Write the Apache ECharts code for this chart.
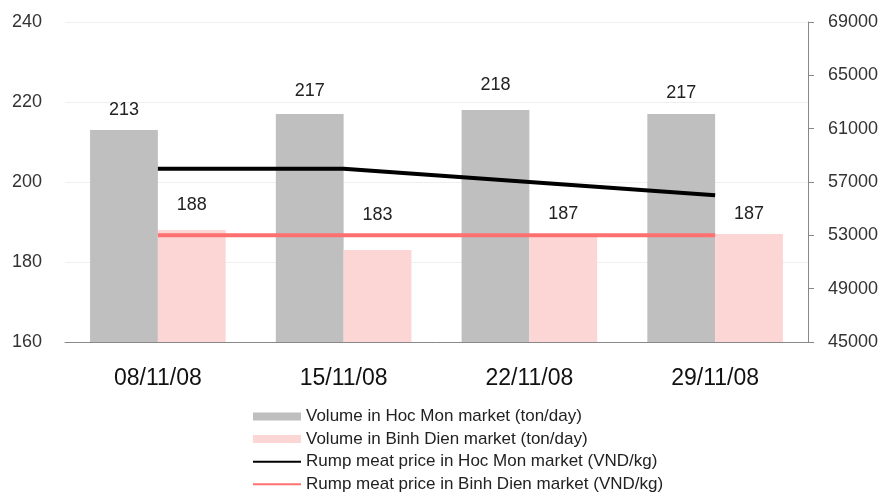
<!DOCTYPE html>
<html><head><meta charset="utf-8">
<script src="https://cdn.jsdelivr.net/npm/echarts@6/dist/echarts.min.js"></script>
<style>html,body{margin:0;padding:0;background:#fff}#c{width:885px;height:493px}</style>
</head><body><div id="c"></div>
<script>
var categories = ['08/11/08', '15/11/08', '22/11/08', '29/11/08'];
var volHocMon = [213, 217, 218, 217];
var volBinhDien = [188, 183, 187, 187];
var priceHocMon = [58000, 58000, 57000, 56000];
var priceBinhDien = [53000, 53000, 53000, 53000];
var leftTicks = [160, 180, 200, 220, 240];
var rightTicks = [45000, 49000, 53000, 57000, 61000, 65000, 69000];
var names = ['Volume in Hoc Mon market (ton/day)', 'Volume in Binh Dien market (ton/day)',
  'Rump meat price in Hoc Mon market (VND/kg)', 'Rump meat price in Binh Dien market (VND/kg)'];

// label offsets (styling only)
var grayOff = [-6, -9, -11, -7];
var pinkOff = [-11, -21, -6, -6];

var font = 'Liberation Sans, Arial, sans-serif';
function withOffsets(vals, offs) {
  return vals.map(function (v, i) { return { value: v, label: { offset: [0, offs[i]] } }; });
}
var chart = echarts.init(document.getElementById('c'));
chart.setOption({
  animation: false,
  textStyle: { fontFamily: font },
  grid: { left: 65, right: 77, top: 22, bottom: 151 },
  legend: {
    orient: 'vertical', left: 252, top: 408, padding: 0, itemWidth: 48, itemHeight: 8, itemGap: 5.6,
    textStyle: { fontFamily: font, fontSize: 17, lineHeight: 17, color: '#222' },
    data: [
      { name: names[0], icon: 'rect' },
      { name: names[1], icon: 'rect' },
      { name: names[2], lineStyle: { width: 2 }, itemStyle: { opacity: 0 } },
      { name: names[3], lineStyle: { width: 2 }, itemStyle: { opacity: 0 } }
    ]
  },
  xAxis: {
    type: 'category', data: categories,
    axisLine: { lineStyle: { color: '#888', width: 1 } },
    axisTick: { alignWithLabel: true, length: 6, lineStyle: { color: '#888' } },
    axisLabel: { fontSize: 23, color: '#111', margin: 25, fontFamily: font }
  },
  yAxis: [
    {
      type: 'value', min: leftTicks[0], max: leftTicks[leftTicks.length - 1], interval: 20,
      axisLine: { show: false }, axisTick: { show: false },
      splitLine: { lineStyle: { color: '#efefef', width: 1 } },
      axisLabel: { fontSize: 18, color: '#333', margin: 23, fontFamily: font }
    },
    {
      type: 'value', min: rightTicks[0], max: rightTicks[rightTicks.length - 1], interval: 4000,
      axisLine: { show: true, lineStyle: { color: '#888' } },
      axisTick: { show: true, length: 6, lineStyle: { color: '#888' } },
      splitLine: { show: false },
      axisLabel: { fontSize: 18, color: '#333', margin: 20, fontFamily: font, formatter: function (v) { return String(v); } }
    }
  ],
  series: [
    {
      name: names[0], type: 'bar', data: withOffsets(volHocMon, grayOff), barGap: '0%', barCategoryGap: '27%',
      itemStyle: { color: '#bfbfbf' },
      label: { show: true, position: 'top', distance: 5, fontSize: 18, color: '#222', fontFamily: font }
    },
    {
      name: names[1], type: 'bar', data: withOffsets(volBinhDien, pinkOff),
      itemStyle: { color: '#fcd5d5' },
      label: { show: true, position: 'top', distance: 5, fontSize: 18, color: '#222', fontFamily: font }
    },
    {
      name: names[2], type: 'line', yAxisIndex: 1, data: priceHocMon, symbol: 'none',
      lineStyle: { color: '#000', width: 4 }, itemStyle: { color: '#000' }, z: 5
    },
    {
      name: names[3], type: 'line', yAxisIndex: 1, data: priceBinhDien, symbol: 'none',
      lineStyle: { color: '#ff7070', width: 4 }, itemStyle: { color: '#ff7070' }, z: 5
    }
  ]
});
</script></body></html>
